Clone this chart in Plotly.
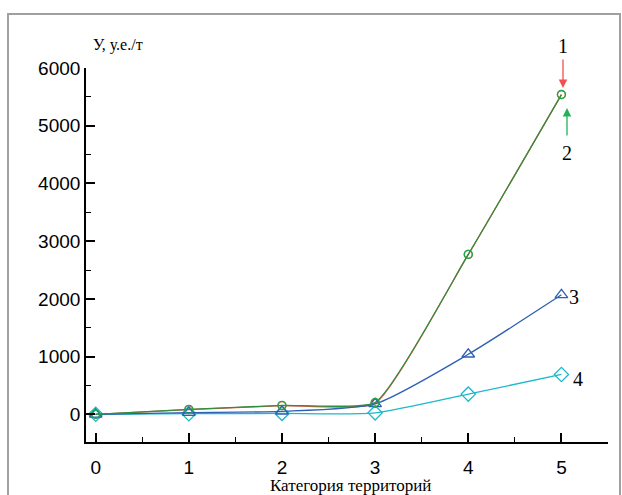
import plotly.graph_objects as go

categories = [0, 1, 2, 3, 4, 5]
series1 = [0, 80, 150, 190, 2770, 5540]   # red
series2 = [0, 85, 155, 205, 2770, 5540]   # green
series3 = [0, 30, 50, 180, 1040, 2070]    # blue
series4 = [0, 10, 15, 25, 350, 690]       # cyan
y_ticks = [0, 1000, 2000, 3000, 4000, 5000, 6000]
x_ticks = [0, 1, 2, 3, 4, 5]

W, H = 622, 495
L, R, T, B = 86, 14, 68, 53
PW, PH = W - L - R, H - T - B

def px(X):
    return (X - L) / PW

def py(Y):
    return (H - B - Y) / PH

fig = go.Figure()

fig.add_trace(go.Scatter(x=categories, y=series1, mode="lines+markers",
    line=dict(color="#f0504a", width=1.3, shape="spline", smoothing=0.45),
    marker=dict(symbol="circle-open", size=8, color="#f0504a", line=dict(width=1.2))))
fig.add_trace(go.Scatter(x=categories, y=series4, mode="lines+markers",
    line=dict(color="#1cb8cc", width=1.3, shape="spline", smoothing=0.6),
    marker=dict(symbol="diamond-open", size=11, color="#1cb8cc", line=dict(width=1.3))))
fig.add_trace(go.Scatter(x=categories, y=series3, mode="lines+markers",
    line=dict(color="#2d5fb5", width=1.3, shape="spline", smoothing=0.6),
    marker=dict(symbol="triangle-up-open", size=11, color="#2d5fb5", line=dict(width=1.3))))
fig.add_trace(go.Scatter(x=categories, y=series2, mode="lines+markers",
    line=dict(color="#2e8f3e", width=1.3, shape="spline", smoothing=0.45),
    marker=dict(symbol="circle-open", size=8, color="#1fa84a", line=dict(width=1.4))))

tickfont = dict(family="Liberation Sans, Arial", size=19, color="black")

fig.update_layout(
    width=W, height=H,
    margin=dict(l=L, r=R, t=T, b=B),
    paper_bgcolor="white", plot_bgcolor="white",
    showlegend=False,
    xaxis=dict(range=[-0.104, 5.5], tickvals=x_ticks, ticks="inside", ticklen=9,
               tickwidth=1.5, tickcolor="black", showline=True, linecolor="black",
               linewidth=1.6, showgrid=False, zeroline=False, tickfont=tickfont,
               ticklabelstandoff=7,
               minor=dict(dtick=0.5, ticks="inside", ticklen=5, tickwidth=1.3, tickcolor="black")),
    yaxis=dict(range=[-480, 6000], tickvals=y_ticks, ticks="inside", ticklen=9,
               tickwidth=1.5, tickcolor="black", showline=True, linecolor="black",
               linewidth=1.6, showgrid=False, zeroline=False, tickfont=tickfont,
               minor=dict(dtick=500, ticks="inside", ticklen=5, tickwidth=1.3, tickcolor="black")),
)

serif = "Liberation Serif, Times New Roman"

# frame around the figure
fig.add_shape(type="rect", xref="paper", yref="paper",
              x0=px(8), x1=px(620), y0=py(498), y1=py(14),
              line=dict(color="#a0a0a0", width=2), fillcolor="rgba(0,0,0,0)", layer="below")

annots = [
    dict(text="У, у.е./т", x=px(118), y=py(45), size=16),
    dict(text="Категория территорий", x=px(350), y=py(485), size=17),
    dict(text="1", x=px(563), y=py(46), size=20),
    dict(text="2", x=px(567), y=py(153), size=20),
    dict(text="3", x=px(574), y=py(297), size=20),
    dict(text="4", x=px(578), y=py(379), size=20),
]
for a in annots:
    fig.add_annotation(text=a["text"], x=a["x"], y=a["y"], xref="paper", yref="paper",
                       showarrow=False, xanchor="center", yanchor="middle",
                       font=dict(family=serif, size=a["size"], color="black"))

# arrows
fig.add_annotation(x=px(563), y=py(88), xref="paper", yref="paper", text="",
                   showarrow=True, arrowhead=2, arrowsize=1.3, arrowwidth=1.3,
                   arrowcolor="#f05050", ax=0, ay=-30)
fig.add_annotation(x=px(567), y=py(108), xref="paper", yref="paper", text="",
                   showarrow=True, arrowhead=2, arrowsize=1.3, arrowwidth=1.3,
                   arrowcolor="#22b35a", ax=0, ay=29)

fig.write_html("out.html", config={"displayModeBar": False},
               post_script="document.body.style.margin='0';document.body.style.overflow='hidden';")
